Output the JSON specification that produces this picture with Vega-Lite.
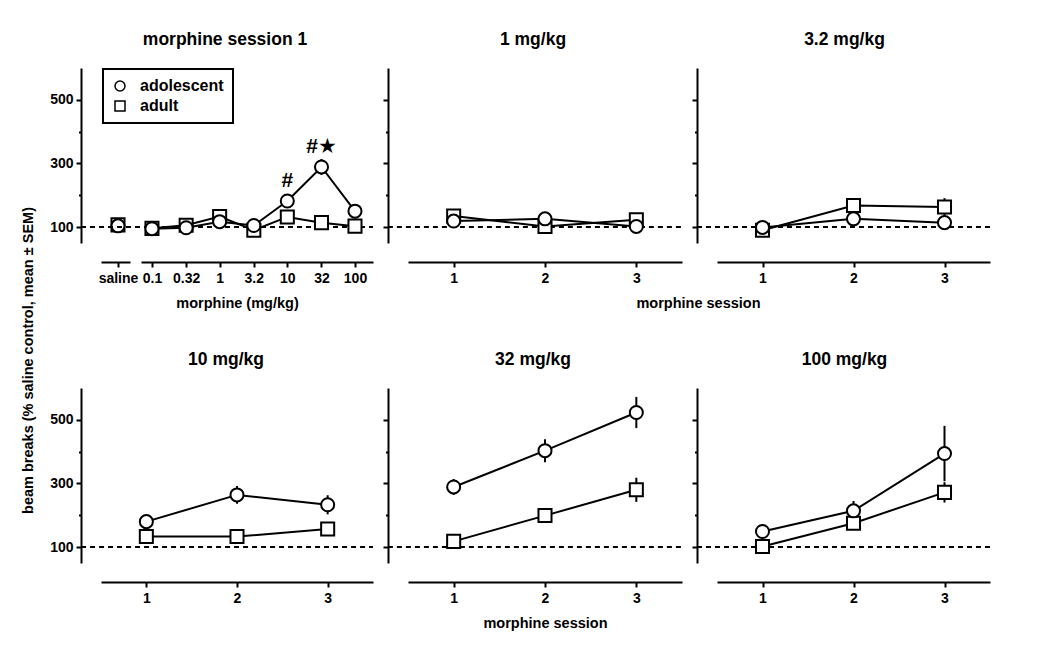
{
  "$schema": "https://vega.github.io/schema/vega-lite/v6.json",
  "padding": {"left": 20, "top": 30, "right": 5, "bottom": 5},
  "datasets": {
    "baseline": [{"pct": 100}],
    "saline": [
      {"treatment": "saline", "group": "adult", "mean": 107, "sem": 6},
      {"treatment": "saline", "group": "adolescent", "mean": 104, "sem": 6}
    ],
    "session1": [
      {"dose": 0.1, "group": "adult", "mean": 96, "sem": 6, "sig": null},
      {"dose": 0.32, "group": "adult", "mean": 106, "sem": 6, "sig": null},
      {"dose": 1, "group": "adult", "mean": 133, "sem": 8, "sig": null},
      {"dose": 3.2, "group": "adult", "mean": 90, "sem": 6, "sig": null},
      {"dose": 10, "group": "adult", "mean": 132, "sem": 8, "sig": null},
      {"dose": 32, "group": "adult", "mean": 114, "sem": 8, "sig": null},
      {"dose": 100, "group": "adult", "mean": 103, "sem": 6, "sig": null},
      {"dose": 0.1, "group": "adolescent", "mean": 95, "sem": 8, "sig": null},
      {"dose": 0.32, "group": "adolescent", "mean": 98, "sem": 6, "sig": null},
      {"dose": 1, "group": "adolescent", "mean": 117, "sem": 8, "sig": null},
      {"dose": 3.2, "group": "adolescent", "mean": 105, "sem": 6, "sig": null},
      {"dose": 10, "group": "adolescent", "mean": 182, "sem": 12, "sig": "#"},
      {"dose": 32, "group": "adolescent", "mean": 289, "sem": 25, "sig": "#★"},
      {"dose": 100, "group": "adolescent", "mean": 150, "sem": 15, "sig": null}
    ],
    "repeated": [
      {"dose": 1, "session": 1, "group": "adult", "mean": 135, "sem": 5},
      {"dose": 1, "session": 2, "group": "adult", "mean": 102, "sem": 4},
      {"dose": 1, "session": 3, "group": "adult", "mean": 123, "sem": 5},
      {"dose": 1, "session": 1, "group": "adolescent", "mean": 119, "sem": 5},
      {"dose": 1, "session": 2, "group": "adolescent", "mean": 126, "sem": 5},
      {"dose": 1, "session": 3, "group": "adolescent", "mean": 102, "sem": 5},
      {"dose": 3.2, "session": 1, "group": "adult", "mean": 90, "sem": 5},
      {"dose": 3.2, "session": 2, "group": "adult", "mean": 168, "sem": 8},
      {"dose": 3.2, "session": 3, "group": "adult", "mean": 163, "sem": 28},
      {"dose": 3.2, "session": 1, "group": "adolescent", "mean": 99, "sem": 5},
      {"dose": 3.2, "session": 2, "group": "adolescent", "mean": 126, "sem": 8},
      {"dose": 3.2, "session": 3, "group": "adolescent", "mean": 114, "sem": 6},
      {"dose": 10, "session": 1, "group": "adult", "mean": 133, "sem": 6},
      {"dose": 10, "session": 2, "group": "adult", "mean": 133, "sem": 6},
      {"dose": 10, "session": 3, "group": "adult", "mean": 157, "sem": 8},
      {"dose": 10, "session": 1, "group": "adolescent", "mean": 180, "sem": 12},
      {"dose": 10, "session": 2, "group": "adolescent", "mean": 264, "sem": 28},
      {"dose": 10, "session": 3, "group": "adolescent", "mean": 233, "sem": 30},
      {"dose": 32, "session": 1, "group": "adult", "mean": 118, "sem": 6},
      {"dose": 32, "session": 2, "group": "adult", "mean": 199, "sem": 10},
      {"dose": 32, "session": 3, "group": "adult", "mean": 280, "sem": 38},
      {"dose": 32, "session": 1, "group": "adolescent", "mean": 289, "sem": 25},
      {"dose": 32, "session": 2, "group": "adolescent", "mean": 403, "sem": 36},
      {"dose": 32, "session": 3, "group": "adolescent", "mean": 523, "sem": 49},
      {"dose": 100, "session": 1, "group": "adult", "mean": 102, "sem": 6},
      {"dose": 100, "session": 2, "group": "adult", "mean": 175, "sem": 15},
      {"dose": 100, "session": 3, "group": "adult", "mean": 272, "sem": 32},
      {"dose": 100, "session": 1, "group": "adolescent", "mean": 149, "sem": 22},
      {"dose": 100, "session": 2, "group": "adolescent", "mean": 214, "sem": 31},
      {"dose": 100, "session": 3, "group": "adolescent", "mean": 394, "sem": 87}
    ]
  },
  "columns": 3,
  "spacing": {"row": 145, "column": 35},
  "bounds": "flush",
  "resolve": {"scale": {"shape": "independent"}, "legend": {"shape": "independent"}},
  "concat": [
    {
      "width": 272, "height": 175,
      "title": {"text": "morphine session 1", "dx": -12},
      "resolve": {"scale": {"x": "independent"}},
      "layer": [
        {
          "data": {"name": "saline"},
          "encoding": {
            "x": {"field": "treatment", "type": "nominal", "scale": {"type": "point", "align": 0.0625}, "axis": {"orient": "bottom", "domain": false, "title": null, "labelAngle": 0}},
            "y": {"field": "mean", "type": "quantitative", "scale": {"domain": [50, 600], "nice": false, "zero": false}, "axis": {"values": [100, 200, 300, 400, 500], "labelExpr": "datum.value % 200 == 100 ? datum.label : ''", "tickSize": {"condition": {"test": "datum.value % 200 == 100", "value": 5}, "value": 2.5}, "title": "beam breaks (% saline control, mean ± SEM)", "titleX": -49, "titleY": 292, "titleAlign": "center", "titleBaseline": "alphabetic", "titleAngle": -90}}
          },
          "layer": [
            {"mark": {"type": "errorbar", "color": "black", "thickness": 2}, "encoding": {"yError": {"field": "sem"}}},
            {"mark": {"type": "point", "color": "black", "fill": "white", "stroke": "black", "strokeWidth": 2, "size": 170, "opacity": 1}, "encoding": {"shape": {"field": "group", "type": "nominal", "scale": {"domain": ["adolescent", "adult"], "range": ["circle", "square"]}, "legend": {"orient": "none", "legendX": 2, "legendY": 1, "title": null, "encode": {"symbols": {"stroke": {"value": "black"}, "fill": {"value": "white"}, "strokeWidth": {"value": 2}, "opacity": {"value": 1}, "size": {"value": 170}}}}}}}
          ]
        },
        {
          "layer": [
            {
              "data": {"name": "baseline"},
              "mark": {"type": "rule", "strokeDash": [5, 4], "strokeWidth": 2, "color": "black"},
              "encoding": {
                "x": {"datum": 0.008947, "type": "quantitative", "scale": {"type": "log", "domain": [0.01766, 184.6], "nice": false}, "axis": {"orient": "bottom", "values": [0.1, 0.32, 1, 3.2, 10, 32, 100], "format": "~g", "title": "morphine (mg/kg)", "domainDash": [29, 11, 400]}},
                "x2": {"datum": 184.6},
                "y": {"field": "pct", "type": "quantitative", "scale": {"domain": [50, 600], "nice": false, "zero": false}, "axis": {"values": [100, 200, 300, 400, 500], "labelExpr": "datum.value % 200 == 100 ? datum.label : ''", "tickSize": {"condition": {"test": "datum.value % 200 == 100", "value": 5}, "value": 2.5}, "title": "beam breaks (% saline control, mean ± SEM)", "titleX": -49, "titleY": 292, "titleAlign": "center", "titleBaseline": "alphabetic", "titleAngle": -90}}
              }
            },
            {
              "data": {"name": "session1"},
              "encoding": {
                "x": {"field": "dose", "type": "quantitative", "scale": {"type": "log", "domain": [0.01766, 184.6], "nice": false}, "axis": {"orient": "bottom", "values": [0.1, 0.32, 1, 3.2, 10, 32, 100], "format": "~g", "title": "morphine (mg/kg)", "domainDash": [29, 11, 400]}},
                "y": {"field": "mean", "type": "quantitative", "scale": {"domain": [50, 600], "nice": false, "zero": false}, "axis": {"values": [100, 200, 300, 400, 500], "labelExpr": "datum.value % 200 == 100 ? datum.label : ''", "tickSize": {"condition": {"test": "datum.value % 200 == 100", "value": 5}, "value": 2.5}, "title": "beam breaks (% saline control, mean ± SEM)", "titleX": -49, "titleY": 292, "titleAlign": "center", "titleBaseline": "alphabetic", "titleAngle": -90}}
              },
              "layer": [
                {"mark": {"type": "line", "color": "black", "strokeWidth": 2}, "encoding": {"detail": {"field": "group"}}},
                {"mark": {"type": "errorbar", "color": "black", "thickness": 2}, "encoding": {"yError": {"field": "sem"}}},
                {"mark": {"type": "point", "color": "black", "fill": "white", "stroke": "black", "strokeWidth": 2, "size": 170, "opacity": 1}, "encoding": {"shape": {"field": "group", "type": "nominal", "scale": {"domain": ["adolescent", "adult"], "range": ["circle", "square"]}, "legend": {"orient": "none", "legendX": 2, "legendY": 1, "title": null, "encode": {"symbols": {"stroke": {"value": "black"}, "fill": {"value": "white"}, "strokeWidth": {"value": 2}, "opacity": {"value": 1}, "size": {"value": 170}}}}}}},
                {"transform": [{"filter": "datum.sig != null"}], "mark": {"type": "text", "dy": -20, "fontSize": 21, "fontWeight": "bold", "font": "Liberation Sans, DejaVu Sans", "color": "black"}, "encoding": {"text": {"field": "sig"}}}
              ]
            }
          ]
        }
      ]
    },
    {
      "width": 274, "height": 175,
      "title": {"text": "1 mg/kg", "dx": -12},
      "layer": [
        {"data": {"name": "baseline"}, "mark": {"type": "rule", "strokeDash": [5, 4], "strokeWidth": 2, "color": "black"},
          "encoding": {
            "x": {"datum": 0.28, "type": "quantitative", "scale": {"domain": [0.5, 3.5], "nice": false, "zero": false}, "axis": {"values": [1, 2, 3], "format": "d", "title": "morphine session", "titleX": 290}},
            "x2": {"datum": 3.5},
            "y": {"field": "pct", "type": "quantitative", "scale": {"domain": [50, 600], "nice": false, "zero": false}, "axis": {"values": [100, 200, 300, 400, 500], "labels": false, "tickSize": {"condition": {"test": "datum.value % 200 == 100", "value": 5}, "value": 2.5}, "title": null}}}},
        {"data": {"name": "repeated"}, "transform": [{"filter": "datum.dose == 1"}],
          "encoding": {
            "x": {"field": "session", "type": "quantitative", "scale": {"domain": [0.5, 3.5], "nice": false, "zero": false}, "axis": {"values": [1, 2, 3], "format": "d", "title": "morphine session", "titleX": 290}},
            "y": {"field": "mean", "type": "quantitative", "scale": {"domain": [50, 600], "nice": false, "zero": false}, "axis": {"values": [100, 200, 300, 400, 500], "labels": false, "tickSize": {"condition": {"test": "datum.value % 200 == 100", "value": 5}, "value": 2.5}, "title": null}}},
          "layer": [
            {"mark": {"type": "line", "color": "black", "strokeWidth": 2}, "encoding": {"detail": {"field": "group"}}},
            {"mark": {"type": "errorbar", "color": "black", "thickness": 2}, "encoding": {"yError": {"field": "sem"}}},
            {"mark": {"type": "point", "color": "black", "fill": "white", "stroke": "black", "strokeWidth": 2, "size": 170, "opacity": 1}, "encoding": {"shape": {"field": "group", "type": "nominal", "scale": {"domain": ["adolescent", "adult"], "range": ["circle", "square"]}, "legend": null}}}
          ]}
      ]
    },
    {
      "width": 273, "height": 175,
      "title": {"text": "3.2 mg/kg", "dx": -9},
      "layer": [
        {"data": {"name": "baseline"}, "mark": {"type": "rule", "strokeDash": [5, 4], "strokeWidth": 2, "color": "black"},
          "encoding": {
            "x": {"datum": 0.28, "type": "quantitative", "scale": {"domain": [0.5, 3.5], "nice": false, "zero": false}, "axis": {"values": [1, 2, 3], "format": "d", "title": null}},
            "x2": {"datum": 3.5},
            "y": {"field": "pct", "type": "quantitative", "scale": {"domain": [50, 600], "nice": false, "zero": false}, "axis": {"values": [100, 200, 300, 400, 500], "labels": false, "tickSize": {"condition": {"test": "datum.value % 200 == 100", "value": 5}, "value": 2.5}, "title": null}}}},
        {"data": {"name": "repeated"}, "transform": [{"filter": "datum.dose == 3.2"}],
          "encoding": {
            "x": {"field": "session", "type": "quantitative", "scale": {"domain": [0.5, 3.5], "nice": false, "zero": false}, "axis": {"values": [1, 2, 3], "format": "d", "title": null}},
            "y": {"field": "mean", "type": "quantitative", "scale": {"domain": [50, 600], "nice": false, "zero": false}, "axis": {"values": [100, 200, 300, 400, 500], "labels": false, "tickSize": {"condition": {"test": "datum.value % 200 == 100", "value": 5}, "value": 2.5}, "title": null}}},
          "layer": [
            {"mark": {"type": "line", "color": "black", "strokeWidth": 2}, "encoding": {"detail": {"field": "group"}}},
            {"mark": {"type": "errorbar", "color": "black", "thickness": 2}, "encoding": {"yError": {"field": "sem"}}},
            {"mark": {"type": "point", "color": "black", "fill": "white", "stroke": "black", "strokeWidth": 2, "size": 170, "opacity": 1}, "encoding": {"shape": {"field": "group", "type": "nominal", "scale": {"domain": ["adolescent", "adult"], "range": ["circle", "square"]}, "legend": null}}}
          ]}
      ]
    },
    {
      "width": 272, "height": 175,
      "title": {"text": "10 mg/kg", "dx": -11},
      "layer": [
        {"data": {"name": "baseline"}, "mark": {"type": "rule", "strokeDash": [5, 4], "strokeWidth": 2, "color": "black"},
          "encoding": {
            "x": {"datum": 0.28, "type": "quantitative", "scale": {"domain": [0.5, 3.5], "nice": false, "zero": false}, "axis": {"values": [1, 2, 3], "format": "d", "title": null}},
            "x2": {"datum": 3.5},
            "y": {"field": "pct", "type": "quantitative", "scale": {"domain": [50, 600], "nice": false, "zero": false}, "axis": {"values": [100, 200, 300, 400, 500], "labelExpr": "datum.value % 200 == 100 ? datum.label : ''", "tickSize": {"condition": {"test": "datum.value % 200 == 100", "value": 5}, "value": 2.5}, "title": null}}}},
        {"data": {"name": "repeated"}, "transform": [{"filter": "datum.dose == 10"}],
          "encoding": {
            "x": {"field": "session", "type": "quantitative", "scale": {"domain": [0.5, 3.5], "nice": false, "zero": false}, "axis": {"values": [1, 2, 3], "format": "d", "title": null}},
            "y": {"field": "mean", "type": "quantitative", "scale": {"domain": [50, 600], "nice": false, "zero": false}, "axis": {"values": [100, 200, 300, 400, 500], "labelExpr": "datum.value % 200 == 100 ? datum.label : ''", "tickSize": {"condition": {"test": "datum.value % 200 == 100", "value": 5}, "value": 2.5}, "title": null}}},
          "layer": [
            {"mark": {"type": "line", "color": "black", "strokeWidth": 2}, "encoding": {"detail": {"field": "group"}}},
            {"mark": {"type": "errorbar", "color": "black", "thickness": 2}, "encoding": {"yError": {"field": "sem"}}},
            {"mark": {"type": "point", "color": "black", "fill": "white", "stroke": "black", "strokeWidth": 2, "size": 170, "opacity": 1}, "encoding": {"shape": {"field": "group", "type": "nominal", "scale": {"domain": ["adolescent", "adult"], "range": ["circle", "square"]}, "legend": null}}}
          ]}
      ]
    },
    {
      "width": 274, "height": 175,
      "title": {"text": "32 mg/kg", "dx": -12},
      "layer": [
        {"data": {"name": "baseline"}, "mark": {"type": "rule", "strokeDash": [5, 4], "strokeWidth": 2, "color": "black"},
          "encoding": {
            "x": {"datum": 0.28, "type": "quantitative", "scale": {"domain": [0.5, 3.5], "nice": false, "zero": false}, "axis": {"values": [1, 2, 3], "format": "d", "title": "morphine session"}},
            "x2": {"datum": 3.5},
            "y": {"field": "pct", "type": "quantitative", "scale": {"domain": [50, 600], "nice": false, "zero": false}, "axis": {"values": [100, 200, 300, 400, 500], "labels": false, "tickSize": {"condition": {"test": "datum.value % 200 == 100", "value": 5}, "value": 2.5}, "title": null}}}},
        {"data": {"name": "repeated"}, "transform": [{"filter": "datum.dose == 32"}],
          "encoding": {
            "x": {"field": "session", "type": "quantitative", "scale": {"domain": [0.5, 3.5], "nice": false, "zero": false}, "axis": {"values": [1, 2, 3], "format": "d", "title": "morphine session"}},
            "y": {"field": "mean", "type": "quantitative", "scale": {"domain": [50, 600], "nice": false, "zero": false}, "axis": {"values": [100, 200, 300, 400, 500], "labels": false, "tickSize": {"condition": {"test": "datum.value % 200 == 100", "value": 5}, "value": 2.5}, "title": null}}},
          "layer": [
            {"mark": {"type": "line", "color": "black", "strokeWidth": 2}, "encoding": {"detail": {"field": "group"}}},
            {"mark": {"type": "errorbar", "color": "black", "thickness": 2}, "encoding": {"yError": {"field": "sem"}}},
            {"mark": {"type": "point", "color": "black", "fill": "white", "stroke": "black", "strokeWidth": 2, "size": 170, "opacity": 1}, "encoding": {"shape": {"field": "group", "type": "nominal", "scale": {"domain": ["adolescent", "adult"], "range": ["circle", "square"]}, "legend": null}}}
          ]}
      ]
    },
    {
      "width": 273, "height": 175,
      "title": {"text": "100 mg/kg", "dx": -9},
      "layer": [
        {"data": {"name": "baseline"}, "mark": {"type": "rule", "strokeDash": [5, 4], "strokeWidth": 2, "color": "black"},
          "encoding": {
            "x": {"datum": 0.28, "type": "quantitative", "scale": {"domain": [0.5, 3.5], "nice": false, "zero": false}, "axis": {"values": [1, 2, 3], "format": "d", "title": null}},
            "x2": {"datum": 3.5},
            "y": {"field": "pct", "type": "quantitative", "scale": {"domain": [50, 600], "nice": false, "zero": false}, "axis": {"values": [100, 200, 300, 400, 500], "labels": false, "tickSize": {"condition": {"test": "datum.value % 200 == 100", "value": 5}, "value": 2.5}, "title": null}}}},
        {"data": {"name": "repeated"}, "transform": [{"filter": "datum.dose == 100"}],
          "encoding": {
            "x": {"field": "session", "type": "quantitative", "scale": {"domain": [0.5, 3.5], "nice": false, "zero": false}, "axis": {"values": [1, 2, 3], "format": "d", "title": null}},
            "y": {"field": "mean", "type": "quantitative", "scale": {"domain": [50, 600], "nice": false, "zero": false}, "axis": {"values": [100, 200, 300, 400, 500], "labels": false, "tickSize": {"condition": {"test": "datum.value % 200 == 100", "value": 5}, "value": 2.5}, "title": null}}},
          "layer": [
            {"mark": {"type": "line", "color": "black", "strokeWidth": 2}, "encoding": {"detail": {"field": "group"}}},
            {"mark": {"type": "errorbar", "color": "black", "thickness": 2}, "encoding": {"yError": {"field": "sem"}}},
            {"mark": {"type": "point", "color": "black", "fill": "white", "stroke": "black", "strokeWidth": 2, "size": 170, "opacity": 1}, "encoding": {"shape": {"field": "group", "type": "nominal", "scale": {"domain": ["adolescent", "adult"], "range": ["circle", "square"]}, "legend": null}}}
          ]}
      ]
    }
  ],
  "config": {
    "font": "Liberation Sans",
    "view": {"stroke": null},
    "axis": {"grid": false, "domainColor": "black", "domainWidth": 2, "tickColor": "black", "tickWidth": 2, "tickSize": 5, "labelFont": "Liberation Sans", "labelFontSize": 14, "labelFontWeight": "bold", "labelColor": "black", "titleFont": "Liberation Sans", "titleFontSize": 14.5, "titleFontWeight": "bold", "titleColor": "black"},
    "axisX": {"offset": 19, "labelPadding": 4, "titlePadding": 11},
    "axisY": {"offset": 20, "labelPadding": 3},
    "title": {"font": "Liberation Sans", "fontSize": 17.5, "fontWeight": "bold", "color": "black", "offset": 20},
    "legend": {"strokeColor": "black", "strokeWidth": 2, "padding": 9, "labelFont": "Liberation Sans", "labelFontSize": 16, "labelFontWeight": "bold", "labelColor": "black", "labelOffset": 12, "rowPadding": 4}
  }
}
